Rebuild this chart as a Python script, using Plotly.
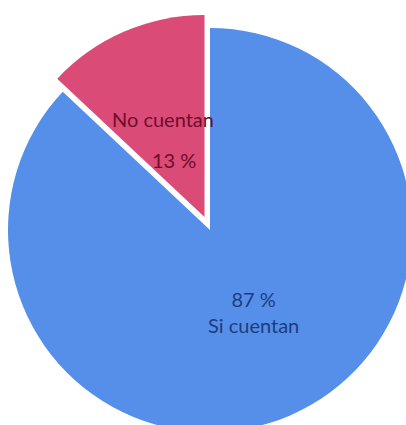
import math
import plotly.graph_objects as go

labels = ["Si cuentan", "No cuentan"]
values = [87, 13]
colors = ["#558FEA", "#DA4B78"]
text_colors = ["#1E3C7C", "#6E0D2C"]

W, H = 430, 450
R = 202
# pie centre, and the centre of the pulled-out slice
centres = [(210, 230), (204.5, 217)]


def domain(cx, cy):
    return dict(x=[(cx - R) / W, (cx + R) / W],
                y=[1 - (cy + R) / H, 1 - (cy - R) / H])


fig = go.Figure()
for i, (cx, cy) in enumerate(centres):
    # each trace paints one slice, the other is left transparent
    cols = [c if j == i else "rgba(0,0,0,0)" for j, c in enumerate(colors)]
    fig.add_trace(go.Pie(
        labels=labels,
        values=values,
        sort=False,
        direction="clockwise",
        rotation=0,
        domain=domain(cx, cy),
        marker=dict(colors=cols, line=dict(width=0)),
        textinfo="none",
        showlegend=False,
        hoverinfo="label+percent",
    ))

# data labels, placed like the original (angle in degrees clockwise from top, distance in px)
pct = [round(100 * v / sum(values)) for v in values]
label_spots = [
    [(f"{pct[0]} %<br>{labels[0]}", 152, 93)],
    [(labels[1], 337, 107), (f"{pct[1]} %", 332, 65)],
]
for i, spots in enumerate(label_spots):
    cx, cy = centres[i]
    for txt, ang, dist in spots:
        a = math.radians(ang)
        px = cx + dist * math.sin(a)
        py = cy - dist * math.cos(a)
        fig.add_annotation(
            x=px / W, y=1 - py / H, xref="paper", yref="paper",
            text=txt, showarrow=False, xanchor="center", yanchor="middle",
            font=dict(family="Lato", size=20, color=text_colors[i]),
        )

fig.update_layout(
    width=W, height=H,
    margin=dict(l=0, r=0, t=0, b=0),
    paper_bgcolor="white",
)

fig.write_html(
    "out.html",
    config={"displayModeBar": False},
    post_script="document.body.style.margin='0';"
                "document.body.style.overflow='hidden';"
                "document.documentElement.style.overflow='hidden';",
)
